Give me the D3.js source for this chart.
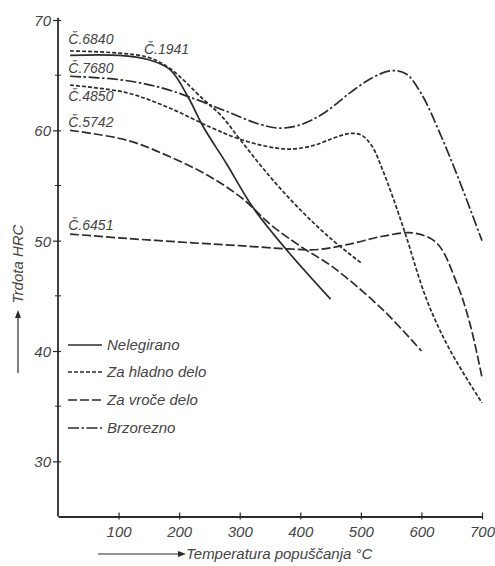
<!DOCTYPE html>
<html>
<head>
<meta charset="utf-8">
<script src="https://cdn.jsdelivr.net/npm/d3@7"></script>
<style>
  html, body { margin: 0; padding: 0; background: #fff; }
  svg text { font-family: "Liberation Sans", Arial, sans-serif; font-style: italic; fill: #444; }
</style>
</head>
<body>
<svg id="chart" width="495" height="566"></svg>
<script>
// Tempering curves: hardness (HRC) against tempering temperature (°C)
const tempC1941 = [20, 100, 150, 185, 215, 240, 278, 322, 380, 450];
const hrcC1941  = [66.8, 66.8, 66.4, 65.5, 63.0, 60.3, 57.0, 53.0, 49.0, 44.7];

const tempC6840 = [20, 100, 150, 185, 240, 270, 300, 350, 400, 450, 500];
const hrcC6840  = [67.2, 67.0, 66.6, 65.6, 62.8, 61.3, 59.2, 55.8, 52.8, 50.2, 48.0];

const tempC7680 = [20, 100, 168, 223, 279, 330, 365, 400, 440, 482, 520, 550, 575, 600, 630, 660, 700];
const hrcC7680  = [64.9, 64.6, 63.9, 62.9, 61.7, 60.6, 60.2, 60.5, 61.6, 63.4, 64.8, 65.4, 65.1, 63.3, 59.8, 55.8, 50.0];

const tempC4850 = [20, 114, 185, 251, 295, 340, 380, 420, 455, 480, 500, 518, 536, 553, 573, 609, 647, 700];
const hrcC4850  = [64.1, 63.4, 62.0, 60.3, 59.3, 58.6, 58.3, 58.6, 59.3, 59.7, 59.6, 58.6, 56.4, 53.9, 50.7, 44.6, 40.1, 35.3];

const tempC5742 = [20, 114, 185, 251, 305, 350, 400, 454, 537, 600];
const hrcC5742  = [60.0, 59.1, 57.6, 55.8, 53.8, 51.5, 49.5, 47.6, 43.7, 40.0];

const tempC6451 = [20, 114, 223, 300, 380, 430, 482, 536, 586, 625, 658, 680, 700];
const hrcC6451  = [50.6, 50.2, 49.8, 49.55, 49.25, 49.2, 49.7, 50.4, 50.7, 49.8, 46.2, 42.5, 37.6];

const xTicks = [100, 200, 300, 400, 500, 600, 700];
const yTicks = [30, 40, 50, 60, 70];
const yMinorTicks = [35, 45, 55, 65];

const groupNames = ["Nelegirano", "Za hladno delo", "Za vroče delo", "Brzorezno"];
const steelNames = ["Č.1941", "Č.6840", "Č.7680", "Č.4850", "Č.5742", "Č.6451"];

// line pattern for each steel group
const groupDash = {
  "Nelegirano": null,
  "Za hladno delo": "4,2",
  "Za vroče delo": "9,3",
  "Brzorezno": "11,2.5,2.5,2.5"
};

const series = [
  { name: steelNames[0], group: groupNames[0], t: tempC1941, h: hrcC1941 },
  { name: steelNames[1], group: groupNames[1], t: tempC6840, h: hrcC6840 },
  { name: steelNames[2], group: groupNames[3], t: tempC7680, h: hrcC7680 },
  { name: steelNames[3], group: groupNames[1], t: tempC4850, h: hrcC4850 },
  { name: steelNames[4], group: groupNames[2], t: tempC5742, h: hrcC5742 },
  { name: steelNames[5], group: groupNames[2], t: tempC6451, h: hrcC6451 }
];

// where each steel name sits relative to the start of its curve
const labelPlacement = {
  "Č.1941": { t: 142, dy: -1 },
  "Č.6840": { t: 17, dy: -7 },
  "Č.7680": { t: 17, dy: -3 },
  "Č.4850": { t: 17, dy: 16 },
  "Č.5742": { t: 17, dy: -3 },
  "Č.6451": { t: 17, dy: -4 }
};

const svg = d3.select("#chart");
const ink = "#2b2b2b";

const x = d3.scaleLinear().domain([0, 700]).range([58, 482]);
const y = d3.scaleLinear().domain([25, 70]).range([516.5, 20]);

// axes
const xAxis = svg.append("g")
  .attr("transform", `translate(0,${y(25)})`)
  .call(d3.axisBottom(x).tickValues(xTicks).tickSize(0).tickPadding(0).tickFormat(d3.format("d")));
xAxis.select(".domain").attr("stroke", ink).attr("stroke-width", 1.8);
xAxis.selectAll(".tick line").attr("y1", -4).attr("y2", 3).attr("stroke", ink).attr("stroke-width", 1.2);
xAxis.selectAll(".tick text")
  .attr("y", 20).attr("dy", 0)
  .style("font-size", "15px").style("font-family", "Liberation Sans, Arial, sans-serif")
  .style("font-style", "italic").attr("fill", "#444");

const yAxis = svg.append("g")
  .attr("transform", `translate(${x(0)},0)`)
  .call(d3.axisLeft(y).tickValues(yTicks).tickSize(0).tickPadding(0).tickFormat(d3.format("d")));
yAxis.select(".domain").attr("stroke", ink).attr("stroke-width", 1.8)
  .attr("d", `M0,${y(25)}V${y(70.2)}`);
yAxis.selectAll(".tick line").attr("x1", -5).attr("x2", 3).attr("stroke", ink).attr("stroke-width", 1.2);
yAxis.selectAll(".tick text")
  .attr("x", -7).attr("dy", "0.36em")
  .style("font-size", "15px").style("font-family", "Liberation Sans, Arial, sans-serif")
  .style("font-style", "italic").attr("fill", "#444");
yAxis.selectAll(".minor")
  .data(yMinorTicks).enter().append("line")
  .attr("class", "minor")
  .attr("x1", -3).attr("x2", 3)
  .attr("y1", d => y(d)).attr("y2", d => y(d))
  .attr("stroke", ink).attr("stroke-width", 1);

// curves
const line = d3.line()
  .x(d => x(d[0]))
  .y(d => y(d[1]))
  .curve(d3.curveCatmullRom.alpha(0.5));

svg.append("g").selectAll("path")
  .data(series).enter().append("path")
  .attr("d", s => line(s.t.map((t, i) => [t, s.h[i]])))
  .attr("fill", "none")
  .attr("stroke", ink)
  .attr("stroke-width", 1.7)
  .attr("stroke-dasharray", s => groupDash[s.group]);

// steel designations
svg.append("g").selectAll("text")
  .data(series).enter().append("text")
  .attr("x", s => x(labelPlacement[s.name].t))
  .attr("y", s => y(s.h[0]) + labelPlacement[s.name].dy)
  .style("font-size", "14px")
  .text(s => s.name);

// legend
const legend = svg.append("g");
const legendY = [345, 372, 400, 428];
groupNames.forEach((g, i) => {
  legend.append("line")
    .attr("x1", 68).attr("x2", 102)
    .attr("y1", legendY[i]).attr("y2", legendY[i])
    .attr("stroke", ink).attr("stroke-width", 1.7)
    .attr("stroke-dasharray", groupDash[g]);
  legend.append("text")
    .attr("x", 107).attr("y", legendY[i] + 5)
    .style("font-size", "15px")
    .text(g);
});

// axis titles with their arrows
const arrowHead = (cx, cy, angle) =>
  svg.append("path")
    .attr("d", "M0,0L-8,-3L-8,3Z")
    .attr("fill", ink)
    .attr("transform", `translate(${cx},${cy}) rotate(${angle})`);

svg.append("line").attr("x1", 98).attr("x2", 180).attr("y1", 554).attr("y2", 554)
  .attr("stroke", ink).attr("stroke-width", 1.2);
arrowHead(186, 554, 0);
svg.append("text").attr("x", 186).attr("y", 559)
  .style("font-size", "15px")
  .text("Temperatura popuščanja °C");

svg.append("line").attr("x1", 18).attr("x2", 18).attr("y1", 373).attr("y2", 316)
  .attr("stroke", ink).attr("stroke-width", 1.2);
arrowHead(18, 310, -90);
svg.append("text")
  .attr("transform", "translate(23,264) rotate(-90)")
  .attr("text-anchor", "middle")
  .style("font-size", "15px")
  .text("Trdota HRC");
</script>
</body>
</html>
